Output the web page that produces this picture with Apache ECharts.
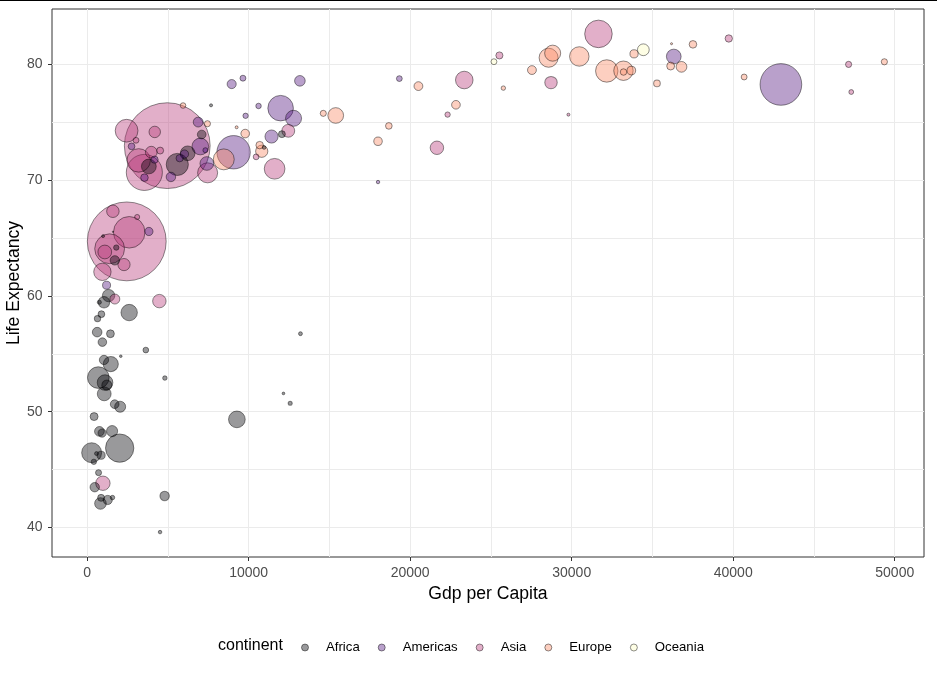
<!DOCTYPE html>
<html><head><meta charset="utf-8">
<script src="https://cdn.jsdelivr.net/npm/echarts@6/dist/echarts.min.js"></script>
<style>html,body{margin:0;padding:0;background:#fff}#chart{width:937px;height:678px}</style>
</head><body><div id="chart"></div>
<script>
// ---- data: gapminder 2007 ----
const continents = ['Africa','Americas','Asia','Europe','Oceania'];

const africaCountry = ["Algeria","Angola","Benin","Botswana","Burkina Faso","Burundi","Cameroon","Central African Republic","Chad","Comoros","Congo, Dem. Rep.","Congo, Rep.","Cote d'Ivoire","Djibouti","Egypt","Equatorial Guinea","Eritrea","Ethiopia","Gabon","Gambia","Ghana","Guinea","Guinea-Bissau","Kenya","Lesotho","Liberia","Libya","Madagascar","Malawi","Mali","Mauritania","Mauritius","Morocco","Mozambique","Namibia","Niger","Nigeria","Reunion","Rwanda","Sao Tome and Principe","Senegal","Sierra Leone","Somalia","South Africa","Sudan","Swaziland","Tanzania","Togo","Tunisia","Uganda","Zambia","Zimbabwe"];
const africaGdp = [6223.367,4797.231,1441.285,12569.85,1217.033,430.0707,2042.095,706.0165,1704.064,986.1479,277.5519,3632.558,1544.750,2082.482,5581.181,12154.09,641.3695,690.8056,13206.48,752.7497,1327.609,942.6542,579.2317,1463.249,1569.331,414.5073,12057.50,1044.770,759.3499,1042.582,1803.151,10956.99,3820.175,823.6856,4811.060,619.6769,2013.977,7670.123,863.0885,1598.435,1712.472,862.5408,926.1411,9269.658,2602.395,4513.481,1107.482,882.9699,7092.923,1056.380,1271.212,469.7093];
const africaLife = [72.301,42.731,56.728,50.728,52.295,49.580,50.430,44.741,50.651,65.152,46.462,55.322,48.328,54.791,71.338,51.579,58.040,52.947,56.735,59.448,60.022,56.007,46.388,54.110,42.592,45.678,73.952,59.443,48.303,54.467,64.164,72.801,71.164,42.082,52.906,56.867,46.859,76.442,46.242,65.528,63.062,42.568,48.159,49.339,58.556,39.613,52.517,58.420,73.923,51.542,42.384,43.487];
const africaPop = [33333216,12420476,8078314,1639131,14326203,8390505,17696293,4369038,10238807,710960,64606759,3800610,18013409,496374,80264543,551201,4906585,76511887,1454867,1688359,22873338,9947814,1472041,35610177,2012649,3193942,6036914,19167654,13327079,12031795,3270065,1250882,33757175,19951656,2055080,12894865,135031164,798094,8860588,199579,12267493,6144562,9118773,43997828,42292929,1133066,38139640,5701579,10276158,29170398,11746035,12311143];

const americasCountry = ["Argentina","Bolivia","Brazil","Canada","Chile","Colombia","Costa Rica","Cuba","Dominican Republic","Ecuador","El Salvador","Guatemala","Haiti","Honduras","Jamaica","Mexico","Nicaragua","Panama","Paraguay","Peru","Puerto Rico","Trinidad and Tobago","United States","Uruguay","Venezuela"];
const americasGdp = [12779.38,3822.137,9065.801,36319.24,13171.64,7006.580,9645.061,8948.103,6025.375,6873.262,5728.354,5186.050,1201.637,3548.331,7320.880,11977.57,2749.321,9809.186,4172.838,7408.906,19328.71,18008.51,42951.65,10611.46,11415.81];
const americasLife = [75.320,65.554,72.390,80.653,78.553,72.889,78.782,78.273,72.235,74.994,71.878,70.259,60.916,70.198,72.567,76.195,72.899,75.537,71.752,71.421,78.746,69.819,78.242,76.384,73.747];
const americasPop = [40301927,9119152,190010647,33390141,16284741,44227550,4133884,11416987,9319622,13755680,6939688,12572928,8502814,7483763,2780132,108700891,5675356,3242173,6667147,28674757,3942491,1056608,301139947,3447496,26084662];

const asiaCountry = ["Afghanistan","Bahrain","Bangladesh","Cambodia","China","Hong Kong, China","India","Indonesia","Iran","Iraq","Israel","Japan","Jordan","Korea, Dem. Rep.","Korea, Rep.","Kuwait","Lebanon","Malaysia","Mongolia","Myanmar","Nepal","Oman","Pakistan","Philippines","Saudi Arabia","Singapore","Sri Lanka","Syria","Taiwan","Thailand","Vietnam","West Bank and Gaza","Yemen, Rep."];
const asiaGdp = [974.5803,29796.05,1391.253,1713.779,4959.115,39724.98,2452.210,3540.652,11605.71,4471.062,25523.28,31656.07,4519.461,1593.065,23348.14,47306.99,10461.06,12451.66,3095.772,944.0000,1091.360,22316.19,2605.948,3190.481,21654.83,47143.18,3970.095,4184.548,28718.28,7458.396,2441.577,3025.350,2280.770];
const asiaLife = [43.828,75.635,64.062,59.723,72.961,82.208,64.698,70.650,70.964,59.545,80.745,82.603,72.535,67.297,78.623,77.588,71.993,74.241,66.803,62.069,63.785,75.640,65.483,71.688,72.777,79.972,72.396,74.143,78.400,70.616,74.249,73.422,62.698];
const asiaPop = [31889923,708573,150448339,14131858,1318683096,6980412,1110396331,223547000,69453570,27499638,6426679,127467972,6053193,23301725,49044790,2505559,3921278,24821286,2874127,47761980,28901790,3204897,169270617,91077287,27601038,4553009,20378239,19314747,23174294,65068149,85262356,4018332,22211743];

const europeCountry = ["Albania","Austria","Belgium","Bosnia and Herzegovina","Bulgaria","Croatia","Czech Republic","Denmark","Finland","France","Germany","Greece","Hungary","Iceland","Ireland","Italy","Montenegro","Netherlands","Norway","Poland","Portugal","Romania","Serbia","Slovak Republic","Slovenia","Spain","Sweden","Switzerland","Turkey","United Kingdom"];
const europeGdp = [5937.030,36126.49,33692.61,7446.299,10680.79,14619.22,22833.31,35278.42,33207.08,30470.02,32170.37,27538.41,18008.94,36180.79,40676.00,28569.72,9253.896,36797.93,49357.19,15389.92,20509.65,10808.48,9786.535,18678.31,25768.26,28821.06,33859.75,37506.42,8458.276,33203.26];
const europeLife = [76.423,79.829,79.441,74.852,73.005,75.748,76.486,78.332,79.313,80.657,79.406,79.483,73.338,81.757,78.885,80.546,74.543,79.762,80.196,75.563,78.098,72.476,74.002,74.663,77.926,80.941,80.884,81.701,71.777,79.425];
const europePop = [3600523,8199783,10392226,4552198,7322858,4493312,10228744,5468120,5238460,61083916,82400996,10706290,9956108,301931,4109086,58147733,684736,16570613,4627926,38518241,10642836,22276056,10150265,5447502,2009245,40448191,9031088,7554661,71158647,60776238];

const oceaniaCountry = ["Australia","New Zealand"];
const oceaniaGdp = [34435.37,25185.01];
const oceaniaLife = [81.235,80.204];
const oceaniaPop = [20434176,4115771];

const xTicks = [0,10000,20000,30000,40000,50000];
const xMinorTicks = [5000,15000,25000,35000,45000];
const yTicks = [40,50,60,70,80];
const yMinorTicks = [45,55,65,75];

// ---- styling ----
const FONT = "'Liberation Sans', Arial, sans-serif";
const fills = {
  Africa: 'rgba(0,0,4,0.5)',
  Americas: 'rgba(81,18,124,0.5)',
  Asia: 'rgba(182,54,121,0.5)',
  Europe: 'rgba(251,136,97,0.5)',
  Oceania: 'rgba(252,253,191,0.5)'
};
const BORDER = 'rgba(0,0,0,0.55)';

const groups = [
  ['Africa', africaCountry, africaGdp, africaLife, africaPop],
  ['Americas', americasCountry, americasGdp, americasLife, americasPop],
  ['Asia', asiaCountry, asiaGdp, asiaLife, asiaPop],
  ['Europe', europeCountry, europeGdp, europeLife, europePop],
  ['Oceania', oceaniaCountry, oceaniaGdp, oceaniaLife, oceaniaPop]
];
let rows = [];
groups.forEach(([cont, names, gdp, life, pop]) => {
  names.forEach((n, i) => rows.push({cont, name: n, gdp: gdp[i], life: life[i], pop: pop[i]}));
});
rows.sort((a, b) => b.pop - a.pop); // largest drawn first

const gdpAll = rows.map(r => r.gdp), lifeAll = rows.map(r => r.life), popAll = rows.map(r => r.pop);
const gMin = Math.min(...gdpAll), gMax = Math.max(...gdpAll);
const lMin = Math.min(...lifeAll), lMax = Math.max(...lifeAll);
const pMin = Math.min(...popAll), pMax = Math.max(...popAll);
const xMin = gMin - 0.05 * (gMax - gMin), xMax = gMax + 0.05 * (gMax - gMin);
const yMin = lMin - 0.05 * (lMax - lMin), yMax = lMax + 0.05 * (lMax - lMin);

const sizeScale = v => 1.3 + 84.5 * Math.sqrt((v - pMin) / (pMax - pMin));

const pointData = rows.map(r => ({
  name: r.name,
  value: [r.gdp, r.life, r.pop],
  itemStyle: {color: fills[r.cont]}
}));

const chart = echarts.init(document.getElementById('chart'), null, {renderer: 'canvas'});

const legendSeries = continents.map(c => ({
  name: c, type: 'scatter', data: [], symbol: 'circle',
  itemStyle: {color: fills[c], borderColor: BORDER, borderWidth: 1}
}));

chart.setOption({
  animation: false,
  backgroundColor: '#fff',
  textStyle: {fontFamily: FONT},
  grid: {left: 52, right: 13, top: 9, bottom: 121, containLabel: false, outerBoundsMode: 'none',
         show: true, borderColor: '#333333', borderWidth: 1, backgroundColor: 'transparent'},
  graphic: [
    {type: 'rect', left: 0, top: 0, z: 100, shape: {width: 937, height: 1}, style: {fill: '#000'}},
    {type: 'text', left: 218, top: 638, style: {text: 'continent', fontSize: 16, fontFamily: FONT, fill: '#000'}}
  ],
  legend: {
    data: continents, left: 296, top: 636, icon: 'circle',
    itemWidth: 32, itemHeight: 7, itemGap: 18, selectedMode: false,
    itemStyle: {borderColor: BORDER, borderWidth: 1},
    textStyle: {fontSize: 13.2, color: '#000', fontFamily: FONT}
  },
  xAxis: {
    type: 'value', min: xMin, max: xMax,
    name: 'Gdp per Capita', nameLocation: 'middle', nameGap: 28, nameMoveOverlap: false,
    nameTextStyle: {color: '#000', fontSize: 17.6, fontFamily: FONT},
    axisLine: {show: false, onZero: false},
    axisTick: {show: true, length: 4, customValues: xTicks, lineStyle: {color: '#333333', width: 1}},
    axisLabel: {customValues: xTicks, formatter: v => String(v), color: '#4D4D4D', fontSize: 14, margin: 9.5, fontFamily: FONT},
    splitLine: {show: true, lineStyle: {color: '#EBEBEB', width: 1}}
  },
  yAxis: {
    type: 'value', min: yMin, max: yMax,
    name: 'Life Expectancy', nameLocation: 'middle', nameGap: 29, nameMoveOverlap: false,
    nameTextStyle: {color: '#000', fontSize: 17.6, fontFamily: FONT},
    axisLine: {show: false, onZero: false},
    axisTick: {show: true, length: 4, customValues: yTicks, lineStyle: {color: '#333333', width: 1}},
    axisLabel: {customValues: yTicks, formatter: v => String(v), color: '#4D4D4D', fontSize: 14, margin: 9.5, fontFamily: FONT},
    splitLine: {show: true, lineStyle: {color: '#EBEBEB', width: 1}}
  },
  series: [
    {
      name: 'countries', type: 'scatter', z: 3, data: pointData,
      symbol: 'circle',
      symbolSize: v => sizeScale(v[2]),
      itemStyle: {borderColor: BORDER, borderWidth: 1},
      emphasis: {disabled: true},
      markLine: {
        silent: true, z: 1, symbol: ['none', 'none'], animation: false,
        label: {show: false},
        emphasis: {disabled: true},
        lineStyle: {color: '#EBEBEB', width: 1, type: 'solid'},
        data: xMinorTicks.map(v => ({xAxis: v})).concat(yMinorTicks.map(v => ({yAxis: v})))
      }
    }
  ].concat(legendSeries)
});
</script>
</body></html>
